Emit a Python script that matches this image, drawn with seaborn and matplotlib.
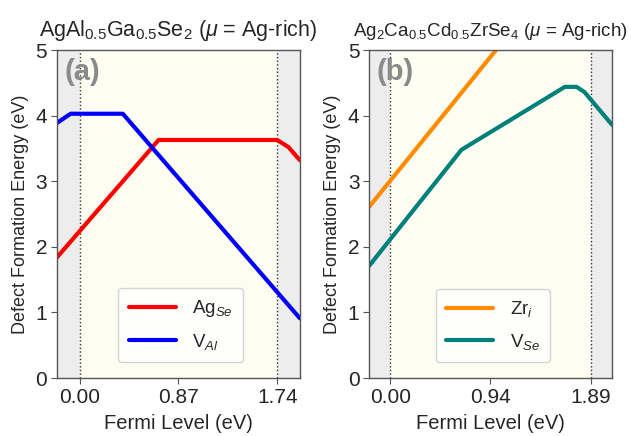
import matplotlib
matplotlib.use("Agg")
import matplotlib.pyplot as plt
import seaborn as sns
import pandas as pd

# ---- data ----
eg_a = 1.74
xlim_a = (-0.2, 1.94)
ticks_a = [0.0, 0.87, 1.74]
tick_labels_a = ["0.00", "0.87", "1.74"]
ag_se_x = [-0.2, 0.695, 1.74, 1.84, 1.94]
ag_se_y = [1.84, 3.63, 3.63, 3.52, 3.32]
v_al_x = [-0.2, -0.08, 0.38, 1.94]
v_al_y = [3.89, 4.03, 4.03, 0.91]

eg_b = 1.89
xlim_b = (-0.2, 2.09)
ticks_b = [0.0, 0.94, 1.89]
tick_labels_b = ["0.00", "0.94", "1.89"]
zr_i_x = [-0.2, 1.2]
zr_i_y = [2.61, 5.41]
v_se_x = [-0.2, 0.67, 1.645, 1.755, 1.83, 2.09]
v_se_y = [1.71, 3.48, 4.44, 4.44, 4.36, 3.86]

title_a = r"AgAl$_{\mathrm{0.5}}$Ga$_{\mathrm{0.5}}$Se$_{\mathrm{2}}$ ($\mu$ = Ag-rich)"
title_b = r"Ag$_{\mathrm{2}}$Ca$_{\mathrm{0.5}}$Cd$_{\mathrm{0.5}}$ZrSe$_{\mathrm{4}}$ ($\mu$ = Ag-rich)"

sns.set_style("ticks")
plt.rcParams["font.family"] = ["Liberation Sans", "DejaVu Sans"]
plt.rcParams["mathtext.fontset"] = "custom"
plt.rcParams["mathtext.rm"] = "Liberation Sans"
plt.rcParams["mathtext.it"] = "Liberation Sans:italic"
plt.rcParams["mathtext.bf"] = "Liberation Sans:bold"

fig = plt.figure(figsize=(6.31, 4.36), dpi=100)
ax_a = fig.add_axes([0.0903, 0.133, 0.385, 0.752])
ax_b = fig.add_axes([0.585, 0.133, 0.385, 0.752])

GRAY = "#ededed"
YEL = "#fdfdf1"

def setup(ax, eg, xlim, ticks, labels, title, tag, tsize):
    ax.axvspan(xlim[0], 0, color=GRAY, zorder=0, lw=0)
    ax.axvspan(0, eg, color=YEL, zorder=0, lw=0)
    ax.axvspan(eg, xlim[1], color=GRAY, zorder=0, lw=0)
    ax.axvline(0, color="#333333", ls=":", lw=1.0, zorder=1)
    ax.axvline(eg, color="#333333", ls=":", lw=1.0, zorder=1)
    ax.set_xlim(*xlim)
    ax.set_ylim(0, 5)
    ax.set_xticks(ticks)
    ax.set_xticklabels(labels)
    ax.set_yticks([0, 1, 2, 3, 4, 5])
    ax.tick_params(labelsize=15, length=4, color="#555555", pad=3)
    for s in ax.spines.values():
        s.set_color("#555555")
        s.set_linewidth(1.0)
    ax.set_title(title, fontsize=tsize, pad=10)
    ax.text(0.03, 0.975, tag, transform=ax.transAxes, fontsize=21,
            fontweight="bold", color="#8a8a8a", va="top", ha="left")

setup(ax_a, eg_a, xlim_a, ticks_a, tick_labels_a, title_a, "(a)", 15.5)
setup(ax_b, eg_b, xlim_b, ticks_b, tick_labels_b, title_b, "(b)", 13.5)

df_a1 = pd.DataFrame({"x": ag_se_x, "y": ag_se_y})
df_a2 = pd.DataFrame({"x": v_al_x, "y": v_al_y})
sns.lineplot(data=df_a1, x="x", y="y", ax=ax_a, color="#ff0000", lw=3,
             sort=False, estimator=None, label=r"Ag$_{Se}$")
sns.lineplot(data=df_a2, x="x", y="y", ax=ax_a, color="#0000ff", lw=3,
             sort=False, estimator=None, label=r"V$_{Al}$")

df_b1 = pd.DataFrame({"x": zr_i_x, "y": zr_i_y})
df_b2 = pd.DataFrame({"x": v_se_x, "y": v_se_y})
sns.lineplot(data=df_b1, x="x", y="y", ax=ax_b, color="#ff8c00", lw=3,
             sort=False, estimator=None, label=r"Zr$_{i}$")
sns.lineplot(data=df_b2, x="x", y="y", ax=ax_b, color="#00807a", lw=3,
             sort=False, estimator=None, label=r"V$_{Se}$")

for ax in (ax_a, ax_b):
    ax.set_xlabel("Fermi Level (eV)", fontsize=14.5, labelpad=5)
    ax.set_ylabel("Defect Formation Energy (eV)", fontsize=13, labelpad=5)
    leg = ax.legend(loc="lower center", bbox_to_anchor=(0.51, 0.049), fontsize=13.5,
                    frameon=True, handlelength=2.5, borderpad=0.55,
                    labelspacing=0.65, handletextpad=0.9, borderaxespad=0)
    leg.get_frame().set_edgecolor("#d0d0d0")
    leg.get_frame().set_facecolor("white")
    leg.get_frame().set_alpha(0.9)

fig.savefig("out.png", dpi=100)
